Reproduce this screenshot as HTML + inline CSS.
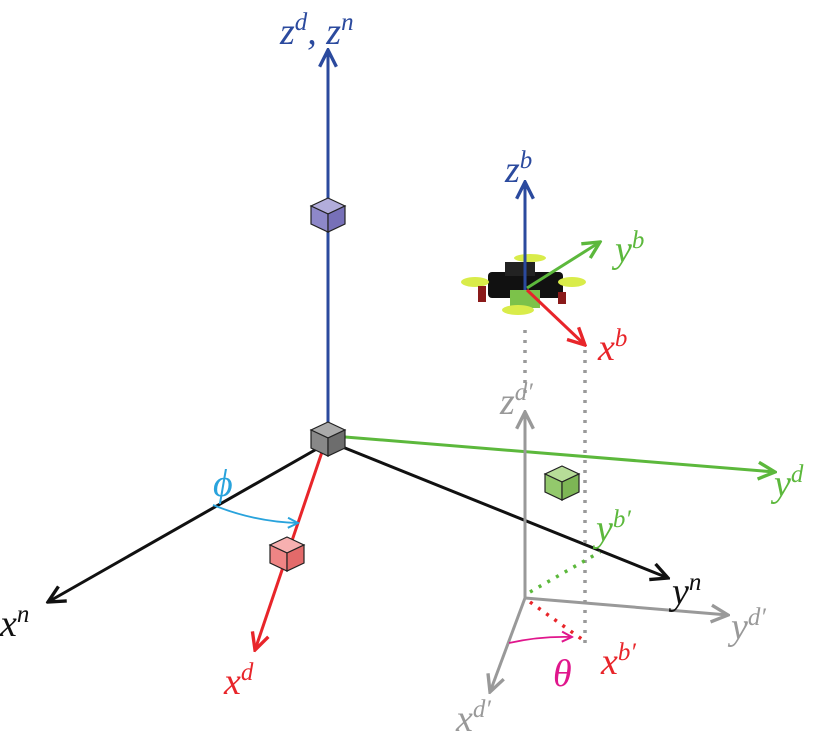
<!DOCTYPE html>
<html><head><meta charset="utf-8"><style>
body{margin:0;background:#fff}
svg{display:block}
text{font-family:"Liberation Serif",serif;font-style:italic}
</style></head><body>
<svg width="820" height="733" viewBox="0 0 820 733">
<defs>
<marker id="ab" viewBox="0 0 10 10" refX="9" refY="5" markerWidth="7" markerHeight="7" orient="auto-start-reverse"><path d="M1 1 L9 5 L1 9" fill="none" stroke="#2b4a9e" stroke-width="1.6"/></marker>
<marker id="ak" viewBox="0 0 10 10" refX="9" refY="5" markerWidth="7" markerHeight="7" orient="auto"><path d="M1 1 L9 5 L1 9" fill="none" stroke="#111" stroke-width="1.6"/></marker>
<marker id="ag" viewBox="0 0 10 10" refX="9" refY="5" markerWidth="7" markerHeight="7" orient="auto"><path d="M1 1 L9 5 L1 9" fill="none" stroke="#5cb83c" stroke-width="1.6"/></marker>
<marker id="ar" viewBox="0 0 10 10" refX="9" refY="5" markerWidth="7" markerHeight="7" orient="auto"><path d="M1 1 L9 5 L1 9" fill="none" stroke="#e8252a" stroke-width="1.6"/></marker>
<marker id="ay" viewBox="0 0 10 10" refX="9" refY="5" markerWidth="7" markerHeight="7" orient="auto"><path d="M1 1 L9 5 L1 9" fill="none" stroke="#999" stroke-width="1.6"/></marker>
<marker id="ac" viewBox="0 0 10 10" refX="9" refY="5" markerWidth="7" markerHeight="7" orient="auto"><path d="M1 1 L9 5 L1 9" fill="none" stroke="#29a3dc" stroke-width="1.6"/></marker>
<marker id="am" viewBox="0 0 10 10" refX="9" refY="5" markerWidth="7" markerHeight="7" orient="auto"><path d="M1 1 L9 5 L1 9" fill="none" stroke="#e0168c" stroke-width="1.6"/></marker>
</defs>

<line x1="328" y1="430" x2="328" y2="50" stroke="#2b4a9e" stroke-width="3" marker-end="url(#ab)"/>
<line x1="322" y1="446" x2="48" y2="602" stroke="#111" stroke-width="3" marker-end="url(#ak)"/>
<line x1="340" y1="446" x2="668" y2="578" stroke="#111" stroke-width="3" marker-end="url(#ak)"/>
<line x1="345" y1="437" x2="775" y2="472" stroke="#5cb83c" stroke-width="3" marker-end="url(#ag)"/>
<line x1="322" y1="452" x2="255" y2="650" stroke="#e8252a" stroke-width="3" marker-end="url(#ar)"/>
<path d="M213 505 Q255 522 298 523" fill="none" stroke="#29a3dc" stroke-width="1.8" marker-end="url(#ac)"/>

<g stroke="#222" stroke-width="1.2">
<polygon points="328,422 345,430 328,438 311,430" fill="#aaa"/><polygon points="311,430 328,438 328,456 311,448" fill="#888"/><polygon points="328,438 345,430 345,448 328,456" fill="#6d6d6d"/></g>
<g stroke="#222" stroke-width="1.2">
<polygon points="328,198 345,206 328,214 311,206" fill="#b2addb"/><polygon points="311,206 328,214 328,232 311,224" fill="#8e88c9"/><polygon points="328,214 345,206 345,224 328,232" fill="#7770b8"/></g>
<g stroke="#222" stroke-width="1.2">
<polygon points="287,537 304,545 287,553 270,545" fill="#f7b0b0"/><polygon points="270,545 287,553 287,571 270,563" fill="#ef8585"/><polygon points="287,553 304,545 304,563 287,571" fill="#e36a6a"/></g>
<g stroke="#222" stroke-width="1.2">
<polygon points="562,466 579,474 562,482 545,474" fill="#b7dc98"/><polygon points="545,474 562,482 562,500 545,492" fill="#93c96c"/><polygon points="562,482 579,474 579,492 562,500" fill="#7db655"/></g>

<line x1="525" y1="598" x2="525" y2="412" stroke="#999" stroke-width="3" marker-end="url(#ay)"/>
<line x1="525" y1="598" x2="728" y2="615" stroke="#999" stroke-width="3" marker-end="url(#ay)"/>
<line x1="525" y1="598" x2="490" y2="692" stroke="#999" stroke-width="3" marker-end="url(#ay)"/>
<line x1="525" y1="330" x2="525" y2="395" stroke="#999" stroke-width="3.5" stroke-dasharray="3 7"/>
<line x1="585" y1="350" x2="585" y2="648" stroke="#999" stroke-width="3.5" stroke-dasharray="3 7"/>
<line x1="530" y1="592" x2="600" y2="552" stroke="#5cb83c" stroke-width="3.5" stroke-dasharray="3 7"/>
<line x1="530" y1="602" x2="583" y2="640" stroke="#e8252a" stroke-width="3.5" stroke-dasharray="3 7"/>
<path d="M509 643 Q540 636 572 637" fill="none" stroke="#e0168c" stroke-width="1.8" marker-end="url(#am)"/>

<g>
<rect x="488" y="272" width="75" height="26" rx="4" fill="#111"/>
<rect x="505" y="262" width="30" height="14" fill="#222"/>
<rect x="510" y="290" width="30" height="18" fill="#7cc24a"/>
<ellipse cx="475" cy="282" rx="14" ry="5" fill="#d9ec4a"/>
<ellipse cx="572" cy="282" rx="14" ry="5" fill="#d9ec4a"/>
<ellipse cx="530" cy="258" rx="16" ry="4" fill="#d9ec4a"/>
<ellipse cx="518" cy="310" rx="16" ry="5" fill="#d9ec4a"/>
<rect x="478" y="286" width="8" height="16" fill="#8a1a1a"/>
<rect x="558" y="292" width="8" height="12" fill="#8a1a1a"/>
</g>
<line x1="525" y1="290" x2="525" y2="182" stroke="#2b4a9e" stroke-width="3" marker-end="url(#ab)"/>
<line x1="527" y1="288" x2="600" y2="242" stroke="#5cb83c" stroke-width="3" marker-end="url(#ag)"/>
<line x1="527" y1="290" x2="585" y2="345" stroke="#e8252a" stroke-width="3" marker-end="url(#ar)"/>

<g font-size="38">
<text x="280" y="44" fill="#2b4a9e">z<tspan font-size="25" dy="-14">d</tspan><tspan dy="14">, z</tspan><tspan font-size="25" dy="-14">n</tspan></text>
<text x="0" y="636" fill="#111">x<tspan font-size="25" dy="-14">n</tspan></text>
<text x="672" y="604" fill="#111">y<tspan font-size="25" dy="-14">n</tspan></text>
<text x="774" y="496" fill="#5cb83c">y<tspan font-size="25" dy="-14">d</tspan></text>
<text x="224" y="694" fill="#e8252a">x<tspan font-size="25" dy="-14">d</tspan></text>
<text x="213" y="496" fill="#29a3dc">ϕ</text>
<text x="505" y="182" fill="#2b4a9e">z<tspan font-size="25" dy="-14">b</tspan></text>
<text x="615" y="262" fill="#5cb83c">y<tspan font-size="25" dy="-14">b</tspan></text>
<text x="598" y="360" fill="#e8252a">x<tspan font-size="25" dy="-14">b</tspan></text>
<text x="500" y="414" fill="#999">z<tspan font-size="25" dy="-14">d′</tspan></text>
<text x="731" y="639" fill="#999">y<tspan font-size="25" dy="-14">d′</tspan></text>
<text x="456" y="731" fill="#999">x<tspan font-size="25" dy="-14">d′</tspan></text>
<text x="596" y="541" fill="#5cb83c">y<tspan font-size="25" dy="-14">b′</tspan></text>
<text x="601" y="674" fill="#e8252a">x<tspan font-size="25" dy="-14">b′</tspan></text>
<text x="553" y="686" fill="#e0168c">θ</text>
</g>
</svg>
</body></html>
